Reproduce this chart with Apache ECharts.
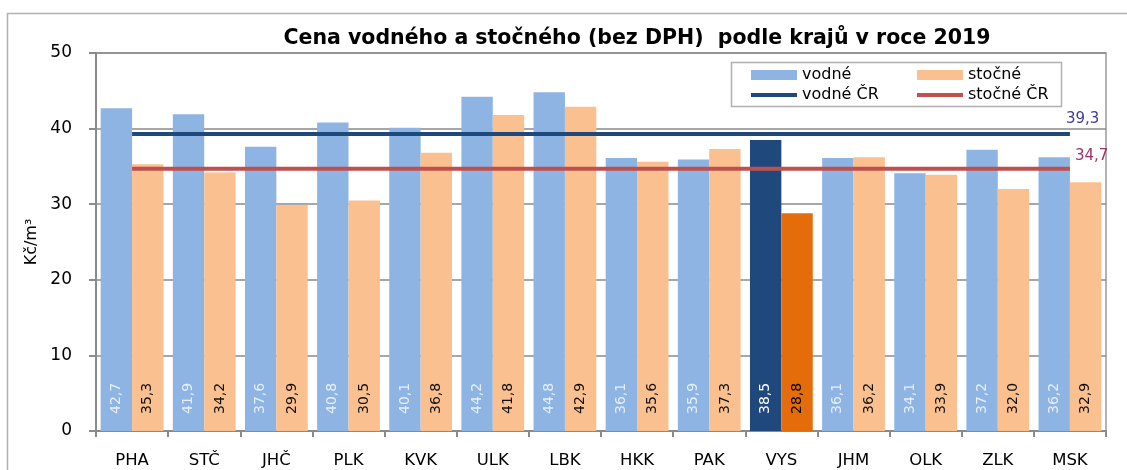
<!DOCTYPE html>
<html>
<head>
<meta charset="utf-8">
<script src="https://cdn.jsdelivr.net/npm/echarts@6/dist/echarts.min.js"></script>
<style>
html,body{margin:0;padding:0;background:#fff;}
#c{width:1127px;height:470px;}
</style>
</head>
<body>
<div id="c"></div>
<script>
const titleText = 'Cena vodného a stočného (bez DPH)  podle krajů v roce 2019';
const categories = ['PHA','STČ','JHČ','PLK','KVK','ULK','LBK','HKK','PAK','VYS','JHM','OLK','ZLK','MSK'];
const vodne = [42.7, 41.9, 37.6, 40.8, 40.1, 44.2, 44.8, 36.1, 35.9, 38.5, 36.1, 34.1, 37.2, 36.2];
const stocne = [35.3, 34.2, 29.9, 30.5, 36.8, 41.8, 42.9, 35.6, 37.3, 28.8, 36.2, 33.9, 32.0, 32.9];
const vodneCR = [39.3, 39.3, 39.3, 39.3, 39.3, 39.3, 39.3, 39.3, 39.3, 39.3, 39.3, 39.3, 39.3, 39.3];
const stocneCR = [34.7, 34.7, 34.7, 34.7, 34.7, 34.7, 34.7, 34.7, 34.7, 34.7, 34.7, 34.7, 34.7, 34.7];
const yTicks = [0, 10, 20, 30, 40, 50];
const highlight = 'VYS';

const FONT = 'DejaVu Sans';
const fmt = v => v.toFixed(1).replace('.', ',');
const hi = categories.indexOf(highlight);

const vodneData = vodne.map((v, i) => i === hi
  ? {value: v, itemStyle: {color: '#1F497D'}, label: {color: '#ffffff'}}
  : v);
const stocneData = stocne.map((v, i) => i === hi
  ? {value: v, itemStyle: {color: '#E46C0A'}, label: {color: '#000000'}}
  : v);

const barLabel = (color) => ({
  show: true,
  position: 'insideBottom',
  rotate: 90,
  align: 'left',
  verticalAlign: 'middle',
  distance: 17,
  fontFamily: FONT,
  fontSize: 14,
  color: color,
  formatter: p => fmt(p.value)
});

const lineIcon = 'path://M0 0H46V4H0Z';
const legendCommon = {
  orient: 'vertical', top: 62, itemWidth: 46, itemHeight: 10, itemGap: 4, itemGap: 4, z: 5,
  textStyle: {fontFamily: FONT, fontSize: 16, color: '#000'}
};

const chart = echarts.init(document.getElementById('c'), null, {renderer: 'canvas'});
chart.setOption({
  animation: false,
  backgroundColor: '#ffffff',
  graphic: [
    {type: 'rect', shape: {x: 7.5, y: 13.5, width: 1140, height: 480},
     style: {fill: 'none', stroke: '#b0b0b0', lineWidth: 1.5}, silent: true},
    {type: 'text', x: 637, y: 39,
     style: {text: titleText, fontFamily: FONT, fontWeight: 'bold', fontSize: 20.5,
             fill: '#000', textAlign: 'center', textVerticalAlign: 'middle'}},
    {type: 'rect', shape: {x: 731.5, y: 62.5, width: 330, height: 44},
     style: {fill: '#fff', stroke: '#b0b0b0', lineWidth: 1.5}, z: 0}
  ],
  grid: {left: 96, right: 21, top: 53, bottom: 39, show: true,
         borderColor: '#9a9a9a', borderWidth: 1.5, backgroundColor: 'transparent'},
  legend: [
    Object.assign({left: 746, data: [{name: 'vodné', icon: 'rect'}, {name: 'vodné ČR', icon: lineIcon}]}, legendCommon),
    Object.assign({left: 912, data: [{name: 'stočné', icon: 'rect'}, {name: 'stočné ČR', icon: lineIcon}]}, legendCommon)
  ],
  xAxis: {
    type: 'category', data: categories, boundaryGap: true,
    axisLine: {lineStyle: {color: '#8a8a8a', width: 2}},
    axisTick: {show: true, length: 6, interval: 0, lineStyle: {color: '#8a8a8a', width: 2}},
    axisLabel: {fontFamily: FONT, fontSize: 16.5, color: '#000', margin: 21, interval: 0}
  },
  yAxis: {
    type: 'value', min: yTicks[0], max: yTicks[yTicks.length - 1], interval: 10,
    name: 'Kč/m³', nameLocation: 'middle', nameGap: 56, nameRotate: 90,
    nameTextStyle: {fontFamily: FONT, fontSize: 16, color: '#000'},
    axisLine: {show: true, lineStyle: {color: '#8a8a8a', width: 2}},
    axisTick: {show: true, length: 7, lineStyle: {color: '#8a8a8a', width: 2}},
    axisLabel: {fontFamily: FONT, fontSize: 17, color: '#000', margin: 24,
                formatter: v => String(v)},
    splitLine: {show: true, lineStyle: {color: '#8a8a8a', width: 1.5}}
  },
  series: [
    {name: 'vodné', type: 'bar', data: vodneData, barGap: '0%', barCategoryGap: '13%',
     itemStyle: {color: '#8EB4E3'}, label: barLabel('#E6EEF9'), z: 2},
    {name: 'stočné', type: 'bar', data: stocneData,
     itemStyle: {color: '#FAC08F'}, label: barLabel('#111111'), z: 2},
    {name: 'vodné ČR', type: 'line', data: vodneCR, symbol: 'none', showSymbol: false,
     lineStyle: {color: '#1F497D', width: 4}, itemStyle: {color: '#1F497D'}, z: 4,
     endLabel: {show: true, formatter: p => fmt(p.value), fontFamily: FONT, fontSize: 15,
                color: '#3D3B9C', offset: [-12, -15]}},
    {name: 'stočné ČR', type: 'line', data: stocneCR, symbol: 'none', showSymbol: false,
     lineStyle: {color: '#C0504D', width: 4}, itemStyle: {color: '#C0504D'}, z: 4,
     endLabel: {show: true, formatter: p => fmt(p.value), fontFamily: FONT, fontSize: 15,
                color: '#9C3565', offset: [-3, -13]}}
  ]
});
</script>
</body>
</html>
